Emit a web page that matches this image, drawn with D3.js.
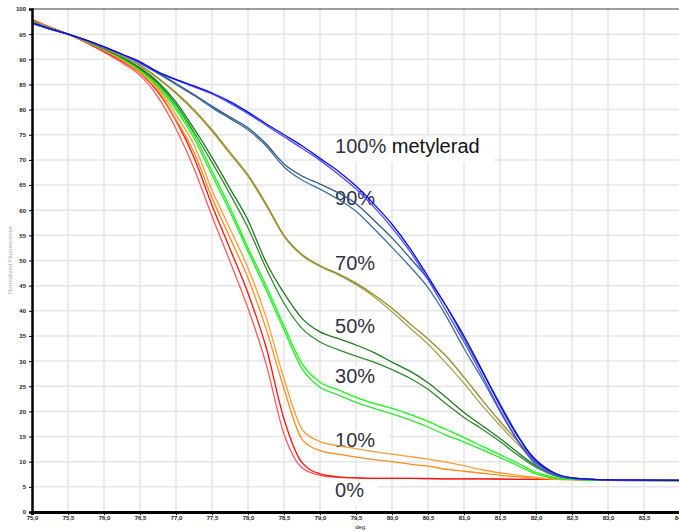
<!DOCTYPE html>
<html>
<head>
<meta charset="utf-8">
<script src="https://cdn.jsdelivr.net/npm/d3@7"></script>
<style>
  body { margin: 0; background: #fff; }
  svg { display: block; font-family: "Liberation Sans", Arial, sans-serif; }
</style>
</head>
<body>
<script>
(function(){

  //temperatures (deg) shared by every melt curve
  var temps = [75.0, 75.25, 75.5, 75.75, 76.0, 76.25, 76.5, 76.75, 77.0, 77.25, 77.5, 77.75,
               78.0, 78.25, 78.5, 78.75, 79.0, 79.25, 79.5, 79.75, 80.0, 80.25, 80.5, 80.75,
               81.0, 81.25, 81.5, 81.75, 82.0, 82.25, 82.5, 83.0, 84.5];

  //normalized fluorescence, two replicates per methylation level
  var met100a = [97.3,96.1,95.0,93.8,92.5,91.0,89.5,87.5,86.0,84.7,83.3,81.6,79.5,77.2,75.0,72.8,70.3,67.8,64.8,61.2,57.2,52.4,46.8,41.0,35.0,28.2,21.2,15.0,10.3,7.8,6.8,6.4,6.2];
  var met100b = [97.2,96.0,95.0,93.8,92.4,91.0,89.3,87.4,85.9,84.5,83.1,81.3,79.2,76.9,74.6,72.3,69.9,67.2,64.2,60.6,56.5,51.8,46.2,40.0,33.8,27.2,20.3,14.2,9.8,7.6,6.7,6.4,6.2];
  var met90a  = [97.2,96.0,95.0,93.8,92.4,91.0,89.3,87.3,85.2,83.0,80.7,78.5,76.4,73.2,69.2,66.8,65.2,63.5,61.3,58.0,54.5,50.5,46.3,41.0,34.5,28.0,21.5,15.2,10.0,7.7,6.8,6.4,6.2];
  var met90b  = [97.1,96.0,95.0,93.8,92.4,90.9,89.2,87.2,85.0,82.8,80.4,78.2,76.0,72.8,68.6,66.0,64.2,62.2,59.8,56.3,52.6,48.8,44.6,39.0,32.5,26.5,20.0,14.0,9.4,7.4,6.7,6.4,6.2];
  var met70a  = [97.4,96.1,95.0,93.7,92.2,90.6,88.8,86.3,83.4,80.0,76.0,71.5,67.0,61.3,55.0,51.2,49.0,47.4,45.5,43.2,40.5,37.4,34.4,31.0,26.8,22.3,18.0,14.0,10.4,7.8,6.8,6.4,6.2];
  var met70b  = [97.4,96.1,95.0,93.7,92.2,90.6,88.7,86.2,83.2,79.7,75.7,71.2,66.7,61.0,54.8,51.0,48.8,47.2,45.2,42.8,39.8,36.6,33.4,29.6,25.6,21.2,17.2,13.4,10.0,7.6,6.7,6.4,6.2];
  var met50a  = [97.5,96.1,95.0,93.7,92.1,90.4,88.3,85.5,81.5,76.2,70.5,64.3,58.0,49.7,43.5,38.5,35.8,34.5,33.2,31.7,29.8,28.0,25.7,22.8,19.8,17.2,14.6,11.8,9.2,7.4,6.7,6.4,6.2];
  var met50b  = [97.5,96.1,95.0,93.7,92.1,90.3,88.1,85.2,81.0,75.5,69.5,63.2,56.5,48.5,41.5,36.5,33.8,32.3,31.0,29.8,28.3,26.6,24.4,21.5,18.8,16.5,14.0,11.3,8.9,7.3,6.7,6.4,6.2];
  var met30a  = [97.6,96.2,95.0,93.6,92.0,90.2,88.0,85.0,80.5,75.0,67.8,60.5,52.5,45.0,37.0,29.5,25.8,24.3,22.8,21.6,20.6,19.4,18.0,16.4,14.8,13.1,11.4,9.7,7.9,6.9,6.5,6.3,6.2];
  var met30b  = [97.6,96.2,95.0,93.6,92.0,90.1,87.8,84.6,80.0,74.3,67.0,59.7,51.8,44.2,36.2,28.5,24.8,23.3,21.8,20.6,19.5,18.3,16.9,15.3,13.9,12.4,10.8,9.2,7.6,6.8,6.5,6.3,6.2];
  var met10a  = [97.7,96.3,95.0,93.5,91.8,89.9,87.6,84.3,79.0,73.0,64.0,56.3,48.5,38.8,26.5,16.5,14.0,13.2,12.6,12.0,11.5,11.0,10.5,9.9,9.2,8.4,7.8,7.3,6.9,6.6,6.5,6.3,6.2];
  var met10b  = [97.7,96.3,95.0,93.5,91.8,89.8,87.3,83.8,78.0,71.5,62.5,54.5,46.5,36.5,24.5,14.5,12.2,11.5,10.9,10.4,10.0,9.5,9.1,8.5,8.1,7.7,7.3,7.0,6.7,6.5,6.4,6.3,6.2];
  var met0a   = [97.9,96.4,95.0,93.4,91.6,89.6,87.3,83.5,77.8,70.5,61.0,52.3,43.5,32.8,18.5,9.8,7.6,7.0,6.8,6.7,6.7,6.7,6.7,6.6,6.6,6.6,6.6,6.5,6.5,6.5,6.5,6.3,6.2];
  var met0b   = [97.9,96.4,95.0,93.3,91.4,89.3,86.8,82.5,76.2,68.3,58.8,49.8,40.5,29.5,15.5,8.8,7.3,6.9,6.8,6.7,6.7,6.7,6.6,6.6,6.6,6.6,6.5,6.5,6.5,6.5,6.5,6.3,6.2];

  //labels written on the chart
  var labelTexts = ["100%", "90%", "70%", "50%", "30%", "10%", "0%"];
  var labelSuffix = " metylerad";

  //ticks
  var xTicks = d3.range(75, 84.51, 0.5);
  var yTicks = d3.range(0, 100.1, 5);

  var width = 679, height = 532;

  var svg = d3.select("body").append("svg")
    .attr("width", width)
    .attr("height", height);

  var x = d3.scaleLinear().domain([75, 84.5]).range([32, 716]);
  var y = d3.scaleLinear().domain([0, 100]).range([512, 9]);

  //grid
  svg.append("g").selectAll("line.v")
    .data(xTicks.slice(1))
    .enter().append("line")
    .attr("x1", function(d){ return x(d); }).attr("x2", function(d){ return x(d); })
    .attr("y1", y(100)).attr("y2", y(0))
    .attr("stroke", "#e6e6e6").attr("stroke-width", 1.5);

  svg.append("g").selectAll("line.h")
    .data(yTicks.slice(1, -1))
    .enter().append("line")
    .attr("x1", x(75)).attr("x2", width)
    .attr("y1", function(d){ return y(d); }).attr("y2", function(d){ return y(d); })
    .attr("stroke", "#e6e6e6").attr("stroke-width", 1.5);

  //top frame line
  svg.append("line")
    .attr("x1", x(75)).attr("x2", width)
    .attr("y1", y(100)).attr("y2", y(100))
    .attr("stroke", "#3a3a3a").attr("stroke-width", 1.2);

  //label layout: [deg, value] of each label's left baseline
  var labelAt = [[79.21, 71.3], [79.21, 61.0], [79.21, 48.1], [79.21, 35.6], [79.21, 25.6], [79.21, 12.9], [79.21, 3.0]];

  var labels = svg.append("g")
    .style("font-size", "20px");

  labelTexts.forEach(function(t, i){
    var g = labels.append("g");
    var txt = g.append("text")
      .attr("x", x(labelAt[i][0]))
      .attr("y", y(labelAt[i][1]))
      .attr("fill", "#30323f");
    txt.append("tspan").text(t);
    if (i == 0) txt.append("tspan").attr("fill", "#111").text(labelSuffix);
    var bb = txt.node().getBBox();
    g.insert("rect", "text")
      .attr("x", bb.x - 14).attr("y", bb.y + 1)
      .attr("width", bb.width + 28).attr("height", bb.height + 4)
      .attr("fill", "#fff");
  });

  //curves, drawn back to front
  var series = [
    {values: met0b,   color: "#ff5a5a"},
    {values: met0a,   color: "#ff1010"},
    {values: met10b,  color: "#ff8c1a"},
    {values: met10a,  color: "#ff9a3a"},
    {values: met30b,  color: "#2ee62e"},
    {values: met30a,  color: "#10ff10"},
    {values: met50b,  color: "#2f8a2f"},
    {values: met50a,  color: "#1f7a1f"},
    {values: met70b,  color: "#a8a250"},
    {values: met70a,  color: "#948c2c"},
    {values: met90b,  color: "#3f6f9f"},
    {values: met90a,  color: "#2c5a8a"},
    {values: met100b, color: "#4b4bff"},
    {values: met100a, color: "#0a0aee"}
  ];

  var line = d3.line()
    .x(function(d, i){ return x(temps[i]); })
    .y(function(d){ return y(d); })
    .curve(d3.curveMonotoneX);

  svg.append("g").selectAll("path")
    .data(series)
    .enter().append("path")
    .attr("d", function(d){ return line(d.values); })
    .attr("fill", "none")
    .attr("stroke", function(d){ return d.color; })
    .attr("stroke-width", 1.3);

  //axes
  var xAxis = svg.append("g")
    .attr("transform", "translate(0," + y(0) + ")")
    .call(d3.axisBottom(x).tickValues(xTicks).tickSize(3)
      .tickFormat(function(d){ return d.toFixed(1).replace(".", ","); }));
  xAxis.select(".domain").attr("stroke", "#000").attr("stroke-width", 3);
  xAxis.selectAll("text").attr("font-size", "6px").attr("font-weight", "bold").attr("fill", "#222").attr("dy", "0.3em");

  var yAxis = svg.append("g")
    .attr("transform", "translate(" + x(75) + ",0)")
    .call(d3.axisLeft(y).tickValues(yTicks).tickSize(3));
  yAxis.select(".domain").attr("stroke", "#000").attr("stroke-width", 2.5);
  yAxis.selectAll("text").attr("font-size", "6px").attr("font-weight", "bold").attr("fill", "#222");

  svg.append("text")
    .attr("x", 361).attr("y", 529)
    .attr("text-anchor", "middle")
    .attr("font-size", "6px").attr("fill", "#222")
    .text("deg.");

  svg.append("text")
    .attr("transform", "translate(12,260) rotate(-90)")
    .attr("text-anchor", "middle")
    .attr("font-size", "6px").attr("fill", "#aaa")
    .text("Normalized Fluorescence");

})();
</script>
</body>
</html>
